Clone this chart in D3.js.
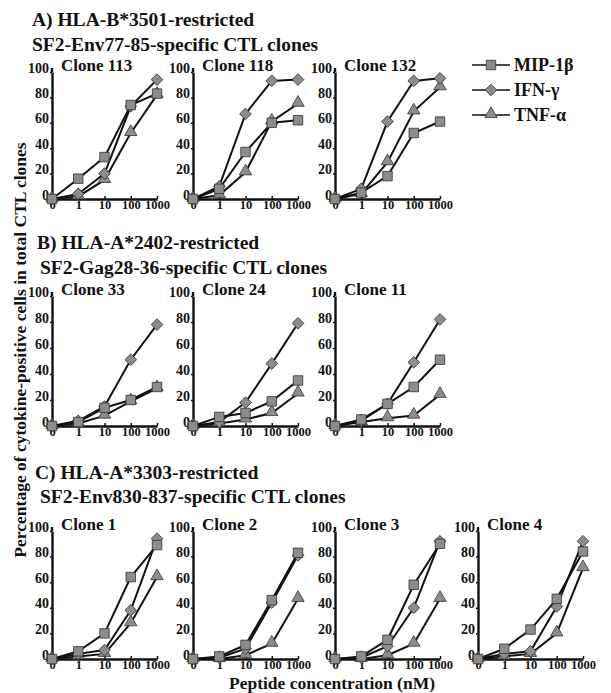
<!DOCTYPE html>
<html>
<head>
<meta charset="utf-8">
<script src="https://cdn.jsdelivr.net/npm/d3@7"></script>
<style>
  body { margin: 0; background: #fff; }
  text { font-family: "Liberation Serif", "Times New Roman", serif; font-weight: bold; fill: #111; }
</style>
</head>
<body>
<script>
var doses = ["0", "1", "10", "100", "1000"];
var yTicks = [0, 20, 40, 60, 80, 100];
var cytokines = ["MIP-1β", "IFN-γ", "TNF-α"];

// % cytokine-positive cells, rows = MIP-1β, IFN-γ, TNF-α
var clone113 = [[0, 16, 33, 74, 83], [0, 4, 20, 73, 94], [0, 2, 15, 52, 82]];
var clone118 = [[0, 8, 37, 60, 62], [0, 10, 67, 93, 94], [0, 3, 21, 61, 75]];
var clone132 = [[0, 5, 18, 52, 61], [0, 8, 61, 93, 95], [0, 4, 29, 69, 88]];
var clone33 = [[0, 3, 14, 20, 30], [0, 4, 15, 51, 78], [0, 2, 8, 19, 29]];
var clone24 = [[0, 7, 10, 19, 35], [0, 3, 18, 48, 79], [0, 2, 5, 10, 25]];
var clone11 = [[0, 5, 17, 30, 51], [0, 4, 17, 49, 82], [0, 3, 6, 8, 24]];
var clone1 = [[0, 6, 20, 64, 89], [0, 4, 7, 38, 94], [0, 2, 4, 28, 64]];
var clone2 = [[0, 2, 11, 46, 83], [0, 1, 8, 44, 81], [0, 0, 3, 12, 47]];
var clone3 = [[0, 2, 15, 58, 90], [0, 1, 10, 40, 92], [0, 0, 3, 12, 47]];
var clone4 = [[0, 8, 23, 47, 84], [0, 4, 6, 41, 92], [0, 2, 4, 20, 71]];

var groupTitles = [
  ["A) HLA-B*3501-restricted", "SF2-Env77-85-specific CTL clones"],
  ["B) HLA-A*2402-restricted", "SF2-Gag28-36-specific CTL clones"],
  ["C) HLA-A*3303-restricted", "SF2-Env830-837-specific CTL clones"]
];
var groupClones = [
  ["Clone 113", "Clone 118", "Clone 132"],
  ["Clone 33", "Clone 24", "Clone 11"],
  ["Clone 1", "Clone 2", "Clone 3", "Clone 4"]
];
var groupData = [
  [clone113, clone118, clone132],
  [clone33, clone24, clone11],
  [clone1, clone2, clone3, clone4]
];

var width = 611, height = 693;
var colX = [52, 193, 335, 478];
var plotW = 105;
var rows = [
  {bottom: 199, top: 72, t1: [32, 26], t2: [32, 51]},
  {bottom: 426, top: 296, t1: [37, 249], t2: [40, 274]},
  {bottom: 659, top: 531, t1: [35, 479], t2: [40, 503]}
];

var svg = d3.select('body').append('svg')
  .attr('width', width)
  .attr('height', height);

svg.append('rect').attr('width', width).attr('height', height).attr('fill', '#fff');

var markerFill = '#8c8c8c', markerStroke = '#333';

function marker(sel, k) {
  if (k == 0) {
    sel.append('path').attr('d', d3.symbol(d3.symbolSquare, 90)());
  } else if (k == 1) {
    sel.append('path').attr('d', d3.symbol(d3.symbolSquare, 68)()).attr('transform', 'rotate(45)');
  } else {
    sel.append('path').attr('d', d3.symbol(d3.symbolTriangle, 66)()).attr('transform', 'translate(0,-1)');
  }
  sel.selectAll('path')
    .attr('fill', markerFill)
    .attr('stroke', markerStroke)
    .attr('stroke-width', 0.8);
}

function drawPanel(g, data, label, row) {
  var x = d3.scalePoint().domain(doses).range([0, plotW]);
  var y = d3.scaleLinear().domain([0, 100]).range([row.bottom - row.top, 0]);

  var ya = g.append('g')
    .call(d3.axisLeft(y).tickValues(yTicks).tickSizeInner(2).tickSizeOuter(0).tickPadding(1));
  ya.selectAll('text').attr('dy', '0').style('font-size', '14px');

  var xa = g.append('g')
    .attr('transform', 'translate(0,' + (row.bottom - row.top) + ')')
    .call(d3.axisBottom(x).tickSizeInner(-3).tickSizeOuter(0).tickPadding(1));
  xa.selectAll('text').style('font-size', '12.5px');

  g.selectAll('.domain').attr('stroke', '#111').attr('stroke-width', 2.4);
  g.selectAll('.tick line').attr('stroke', '#111').attr('stroke-width', 1.5);
  // y axis runs a little above 100 like the original
  ya.append('line').attr('x1', 0).attr('x2', 0).attr('y1', -4).attr('y2', 0)
    .attr('stroke', '#111').attr('stroke-width', 2.4);

  g.append('text')
    .attr('x', 9).attr('y', -1)
    .style('font-size', '17px')
    .text(label);

  var line = d3.line()
    .x(function(d, i) { return x(doses[i]); })
    .y(function(d) { return y(d); });

  for (var k = 0; k < data.length; k++) {
    g.append('path')
      .attr('d', line(data[k]))
      .attr('fill', 'none')
      .attr('stroke', '#111')
      .attr('stroke-width', 2);
  }

  [2, 1, 0].forEach(function(k) {
    data[k].forEach(function(v, i) {
      var m = g.append('g').attr('transform', 'translate(' + x(doses[i]) + ',' + y(v) + ')');
      marker(m, k);
    });
  });
}

groupTitles.forEach(function(t, r) {
  var row = rows[r];
  svg.append('text').attr('x', row.t1[0]).attr('y', row.t1[1]).style('font-size', '19.5px').text(t[0]);
  svg.append('text').attr('x', row.t2[0]).attr('y', row.t2[1]).style('font-size', '19.5px').text(t[1]);

  groupData[r].forEach(function(data, c) {
    var g = svg.append('g').attr('transform', 'translate(' + colX[c] + ',' + row.top + ')');
    drawPanel(g, data, groupClones[r][c], row);
  });
});

// legend
var legend = svg.append('g').attr('transform', 'translate(472,65)');
cytokines.forEach(function(name, k) {
  var lg = legend.append('g').attr('transform', 'translate(0,' + (k * 25) + ')');
  lg.append('line').attr('x1', 0).attr('x2', 38).attr('y1', 0).attr('y2', 0)
    .attr('stroke', '#111').attr('stroke-width', 1.6);
  var m = lg.append('g').attr('transform', 'translate(19,0)');
  marker(m, k);
  lg.append('text').attr('x', 42).attr('y', 6).style('font-size', '18px').text(name);
});

// axis titles
svg.append('text')
  .attr('transform', 'translate(26,350) rotate(-90)')
  .attr('text-anchor', 'middle')
  .style('font-size', '17.5px')
  .text('Percentage of cytokine-positive cells in total CTL clones');

svg.append('text')
  .attr('x', 332).attr('y', 689)
  .attr('text-anchor', 'middle')
  .style('font-size', '17.5px')
  .text('Peptide concentration (nM)');
</script>
</body>
</html>
